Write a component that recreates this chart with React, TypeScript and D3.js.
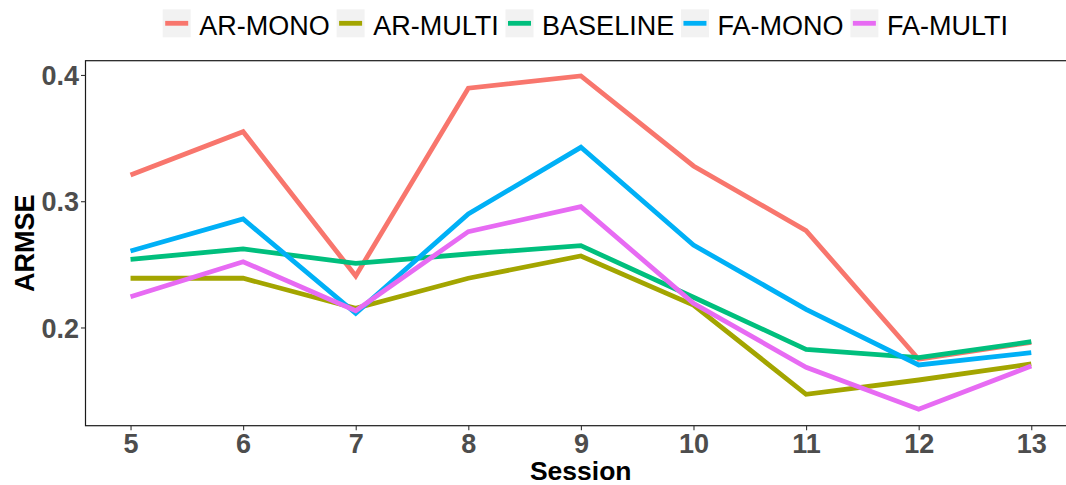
import React, { useEffect, useRef } from "react";
import * as d3 from "d3";

const sessions = [5, 6, 7, 8, 9, 10, 11, 12, 13];
const seriesNames = ["AR-MONO", "AR-MULTI", "BASELINE", "FA-MONO", "FA-MULTI"];
const seriesColors = ["#F8766D", "#A3A500", "#00BF7D", "#00B0F6", "#E76BF3"];
const arMono = [0.3208, 0.3551, 0.2408, 0.3895, 0.3992, 0.3279, 0.2767, 0.1748, 0.1882];
const arMulti = [0.239, 0.239, 0.2152, 0.239, 0.2566, 0.2178, 0.1471, 0.1584, 0.1711];
const baseline = [0.254, 0.2622, 0.2508, 0.2582, 0.2648, 0.2239, 0.1827, 0.1761, 0.1887];
const faMono = [0.2606, 0.2859, 0.2112, 0.2899, 0.3427, 0.2653, 0.2144, 0.1703, 0.18];
const faMulti = [0.2244, 0.2521, 0.2133, 0.2759, 0.2957, 0.2192, 0.1685, 0.1352, 0.1695];
const yTicks = [0.2, 0.3, 0.4];
const seriesValues = [arMono, arMulti, baseline, faMono, faMulti];

const W = 1066;
const H = 485;

export default function App() {
  const ref = useRef<SVGSVGElement>(null);

  useEffect(() => {
    const svg = d3.select(ref.current);
    svg.selectAll("*").remove();

    const panelLeft = 85.5;
    const panelTop = 60.7;
    const panelBottom = 425.7;
    const xs = d3.scaleLinear().domain([4.6, 13.4]).range([panelLeft, 1076.3]);
    const ys = d3.scaleLinear().domain([0.1222, 0.4113]).range([panelBottom, panelTop]);

    svg.append("rect").attr("width", W).attr("height", H).attr("fill", "#ffffff");

    const clipId = "panelclip";
    svg.append("defs").append("clipPath").attr("id", clipId)
      .append("rect").attr("x", panelLeft).attr("y", panelTop)
      .attr("width", 1076.3 - panelLeft).attr("height", panelBottom - panelTop);

    const line = d3.line<number>()
      .x((_, i) => xs(sessions[i]))
      .y((d) => ys(d));

    const g = svg.append("g").attr("clip-path", `url(#${clipId})`);
    seriesValues.forEach((vals, k) => {
      g.append("path")
        .attr("d", line(vals) as string)
        .attr("fill", "none")
        .attr("stroke", seriesColors[k])
        .attr("stroke-width", 4.8)
        .attr("stroke-linejoin", "miter")
        .attr("stroke-linecap", "butt");
    });

    // panel border
    svg.append("rect")
      .attr("x", panelLeft).attr("y", panelTop)
      .attr("width", 1076.3 - panelLeft).attr("height", panelBottom - panelTop)
      .attr("fill", "none").attr("stroke", "#1a1a1a").attr("stroke-width", 1.2);

    // y axis
    const yAxis = d3.axisLeft(ys).tickValues(yTicks).tickSize(4.5).tickPadding(2).tickFormat(d3.format(".1f"));
    const ya = svg.append("g").attr("transform", `translate(${panelLeft},0)`).call(yAxis);
    ya.select(".domain").remove();
    ya.selectAll(".tick line").attr("stroke", "#333333").attr("stroke-width", 1.1);
    ya.selectAll(".tick text")
      .attr("fill", "#4D4D4D")
      .attr("font-family", "'Liberation Sans', Arial, sans-serif")
      .attr("font-weight", "bold")
      .attr("font-size", 27)
      .attr("dy", "0.36em");

    // x axis
    const xAxis = d3.axisBottom(xs).tickValues(sessions).tickSize(4.5).tickPadding(3).tickFormat(d3.format("d"));
    const xa = svg.append("g").attr("transform", `translate(0,${panelBottom})`).call(xAxis);
    xa.select(".domain").remove();
    xa.selectAll(".tick line").attr("stroke", "#333333").attr("stroke-width", 1.1);
    xa.selectAll(".tick text")
      .attr("fill", "#4D4D4D")
      .attr("font-family", "'Liberation Sans', Arial, sans-serif")
      .attr("font-weight", "bold")
      .attr("font-size", 27)
      .attr("dy", "0.72em");

    // axis titles
    svg.append("text")
      .attr("x", 580.7).attr("y", 480)
      .attr("text-anchor", "middle")
      .attr("font-family", "'Liberation Sans', Arial, sans-serif")
      .attr("font-weight", "bold")
      .attr("font-size", 26.5)
      .attr("fill", "#000000")
      .text("Session");

    svg.append("text")
      .attr("transform", `translate(33.5,${(panelTop + panelBottom) / 2}) rotate(-90)`)
      .attr("text-anchor", "middle")
      .attr("font-family", "'Liberation Sans', Arial, sans-serif")
      .attr("font-weight", "bold")
      .attr("font-size", 27)
      .attr("fill", "#000000")
      .text("ARMSE");

    // legend
    const lg = svg.append("g");
    let x = 162.7;
    const keyTop = 9.3;
    const keySize = 28;
    seriesNames.forEach((name, k) => {
      lg.append("rect").attr("x", x).attr("y", keyTop).attr("width", keySize).attr("height", keySize).attr("fill", "#F2F2F2");
      lg.append("line")
        .attr("x1", x + 2.5).attr("x2", x + keySize - 2.5)
        .attr("y1", keyTop + keySize / 2).attr("y2", keyTop + keySize / 2)
        .attr("stroke", seriesColors[k]).attr("stroke-width", 4.8);
      const t = lg.append("text")
        .attr("x", x + keySize + 8.6).attr("y", 35)
        .attr("font-family", "'Liberation Sans', Arial, sans-serif")
        .attr("font-size", 27)
        .attr("fill", "#000000")
        .text(name);
      const tw = (t.node() as SVGTextElement).getComputedTextLength();
      x = x + keySize + 8.6 + tw + 6.8;
    });
  }, []);

  return (
    <svg
      ref={ref}
      width={W}
      height={H}
      style={{ position: "absolute", left: 0, top: 0, display: "block" }}
    />
  );
}
